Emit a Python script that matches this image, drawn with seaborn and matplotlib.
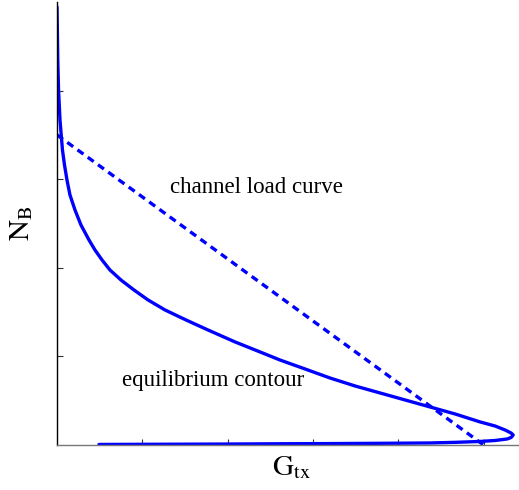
import matplotlib
matplotlib.use("Agg")
import matplotlib.pyplot as plt
import seaborn as sns
import pandas as pd

# equilibrium contour (pixel readings converted to tick units)
contour_px_x = [57, 57.3, 57.8, 58.5, 60, 62.5, 64.5, 67, 70, 75, 81, 89, 95, 102, 110,
                121, 134, 148, 165, 186, 208, 235, 260, 280, 305, 330, 355, 380, 405,
                430, 455, 480, 495, 505, 511, 513, 511, 507, 495, 480, 455, 430, 380,
                330, 280, 230, 180, 150, 99]
contour_px_y = [7, 30, 60, 90, 120, 150, 165, 180, 195, 210, 225, 240, 250, 260, 270,
                280, 290, 300, 310, 320, 330, 342, 352, 360, 369, 378, 386, 393, 400,
                407, 414, 422, 426, 430, 433, 435, 437.5, 439, 440.5, 441.5, 442.3, 443,
                443.3, 443.6, 443.8, 444, 444.2, 444.3, 444.5]
contour_g = [round((p - 57) / 85.3, 3) for p in contour_px_x]
contour_n = [round((445 - p) / 88.6, 3) for p in contour_px_y]

# channel load curve
load_g = [0.0, 5.0]
load_n = [3.5, 0.0]

x_ticks = [1, 2, 3, 4, 5]
y_ticks = [1, 2, 3, 4]

sns.set_style("white")
plt.rcParams["font.family"] = ["Liberation Serif", "DejaVu Serif"]
plt.rcParams["mathtext.fontset"] = "stix"
plt.rcParams["text.color"] = "black"
plt.rcParams["axes.labelcolor"] = "black"

fig = plt.figure(figsize=(5.19, 4.90), dpi=100)
ax = fig.add_axes([57 / 519, 45 / 490, 512 / 519, 443 / 490])

df_c = pd.DataFrame({"g": contour_g, "n": contour_n})
df_l = pd.DataFrame({"g": load_g, "n": load_n})
sns.lineplot(data=df_c, x="g", y="n", sort=False, estimator=None, ax=ax,
             color="#0000ff", linewidth=2.4)
sns.lineplot(data=df_l, x="g", y="n", sort=False, estimator=None, ax=ax,
             color="#0000ff", linewidth=2.4, linestyle=(0, (2.2, 1.6)))

ax.set_xlim(0, 6)
ax.set_ylim(0, 5)
ax.set_xticks(x_ticks)
ax.set_yticks(y_ticks)
ax.set_xticklabels([])
ax.set_yticklabels([])
ax.tick_params(direction="in", length=4, width=0.8, colors="#333333",
               bottom=True, left=True)
for s in ["top", "right"]:
    ax.spines[s].set_visible(False)
ax.spines["left"].set_color("black")
ax.spines["left"].set_linewidth(1.0)
ax.spines["bottom"].set_color("#777777")
ax.spines["bottom"].set_linewidth(1.0)

ax.set_xlabel(r"$\mathrm{G_{tx}}$", fontsize=21, labelpad=2)
ax.xaxis.set_label_coords(0.457, -0.02, transform=ax.transAxes)
ax.xaxis.label.set_va("top")
ax.set_ylabel(r"$\mathrm{N_B}$", fontsize=21, labelpad=12)

ax.text(2.34, 2.91, "channel load curve", fontsize=16.5, ha="center", va="center")
ax.text(1.83, 0.73, "equilibrium contour", fontsize=16.5, ha="center", va="center")

fig.savefig("out.png", dpi=100)
